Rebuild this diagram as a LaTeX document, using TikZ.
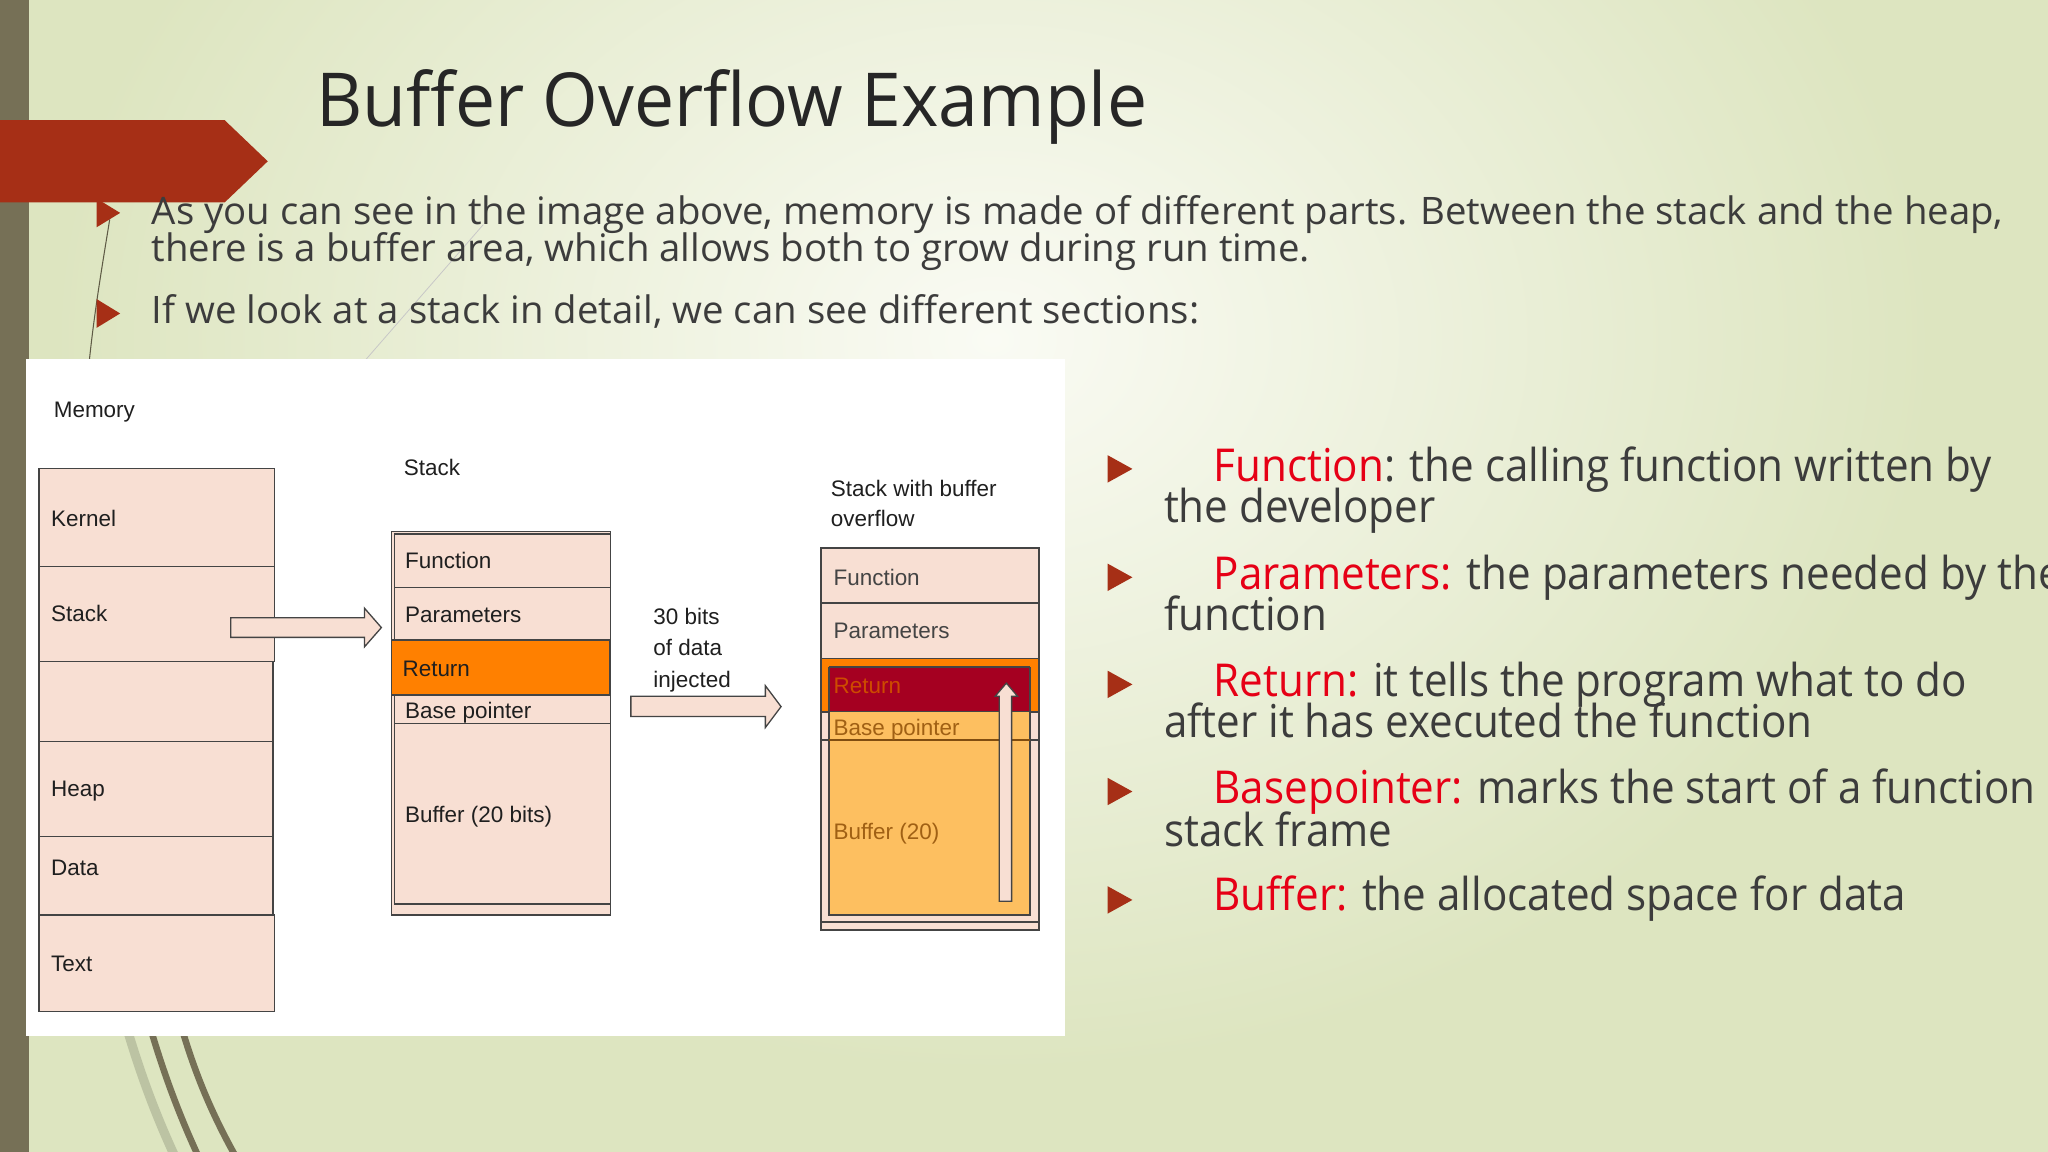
\documentclass[tikz,border=0pt]{standalone}
\usepackage{fontspec}
\setmainfont{Liberation Sans}
\newfontfamily\titlefont[FakeStretch=0.96]{Open Sans}
\newfontfamily\bodyfont[FakeStretch=1.013]{Open Sans}
\newfontfamily\sidefont[FakeStretch=0.93]{Open Sans}
\newfontfamily\arialfont{Liberation Sans}
\definecolor{bg}{RGB}{221,229,192}
\definecolor{bgglow}{RGB}{250,251,244}
\definecolor{olive}{RGB}{118,112,86}
\definecolor{banner}{RGB}{166,47,22}
\definecolor{titlegray}{RGB}{38,38,38}
\definecolor{bodygray}{RGB}{60,60,60}
\definecolor{termred}{RGB}{230,0,22}
\definecolor{pinkfill}{RGB}{248,223,211}
\definecolor{edge}{RGB}{68,68,68}
\definecolor{orangefill}{RGB}{255,128,0}
\definecolor{darkred}{RGB}{165,0,33}
\definecolor{lightorange}{RGB}{253,191,96}
\definecolor{dimtext}{RGB}{160,96,20}
\definecolor{rettext}{RGB}{205,75,0}
\begin{document}
\begin{tikzpicture}[x=1pt,y=-1pt,
  box/.style={draw=edge, line width=1.1pt, fill=pinkfill},
  lbl/.style={font=\arialfont\fontsize{17.2}{20.5}\selectfont, text=black!88, inner sep=0pt, anchor=base west},
  titletext/.style={font=\titlefont\fontsize{57}{64}\selectfont, text=titlegray, inner sep=0pt, anchor=base west},
  bodytext/.style={font=\bodyfont\fontsize{29}{29}\selectfont, text=bodygray, inner sep=0pt, anchor=base west},
  sidetext/.style={font=\sidefont\fontsize{34.7}{33}\selectfont, text=bodygray, inner sep=0pt, anchor=base west},
  bullet/.style={fill=banner, draw=none},
  hollowarrow/.style={draw=edge, line width=1pt, fill=pinkfill}
]
\useasboundingbox (0,0) rectangle (1568,882);
\clip (0,0) rectangle (1568,882);
% background
\fill[bg] (0,0) rectangle (1568,882);
\shade[inner color=bgglow, outer color=bg] (760,260) ellipse [x radius=720, y radius=560];
% left bar
\fill[olive] (0,0) rectangle (22,882);
% decorative lines
\draw[olive!80!black, line width=0.8pt] (84,168) .. controls (78,205) and (72,240) .. (68,280);
\draw[black!22, line width=0.6pt] (370,172) -- (276,280);
\draw[black!15!bg, line width=7pt] (98,790) .. controls (110,830) and (122,860) .. (136,890);
\draw[olive, line width=5pt] (116,790) .. controls (128,830) and (140,860) .. (154,890);
\draw[olive, line width=5pt] (140,790) .. controls (152,830) and (166,860) .. (183,890);
% banner
\fill[banner] (0,92) -- (172,92) -- (205,123.5) -- (172,155) -- (0,155) -- cycle;
% title
\node[titletext] (title) at (242,97) {Buffer Overflow Example};
% top bullets
\fill[bullet] (74,152) -- (92,163) -- (74,174) -- cycle;
\fill[bullet] (74,229) -- (92,240) -- (74,251) -- cycle;
\node[bodytext] (b1a) at (116,172) {As you can see in the image above, memory is made of different parts. Between the stack and the heap,};
\node[bodytext] (b1b) at (116,200.5) {there is a buffer area, which allows both to grow during run time.};
\node[bodytext] (b2) at (116,248) {If we look at a stack in detail, we can see different sections:};
% white panel
\fill[white] (20,275) rectangle (815,793);
% memory column
\node[lbl] (memlbl) at (41,320) {Memory};
\draw[box] (30,358.6) rectangle (210,433.8);
\draw[box] (30,433.8) rectangle (210,506.6);
\draw[box] (30,506.6) rectangle (209,567.8);
\draw[box] (30,567.8) rectangle (209,640.6);
\draw[box] (30,640.6) rectangle (209,700.4);
\draw[box] (30,700.4) rectangle (210,774.5);
\node[lbl] (mk) at (39,403) {Kernel};
\node[lbl] (ms) at (39,476) {Stack};
\node[lbl] (mh) at (39,610) {Heap};
\node[lbl] (md) at (39,670) {Data};
\node[lbl] (mt) at (39,744) {Text};
% arrow memory -> stack
\draw[hollowarrow] (176.7,473) -- (279,473) -- (279,465.6) -- (292,480.5) -- (279,495.3) -- (279,488) -- (176.7,488) -- cycle;
% stack
\node[lbl] (stacklbl) at (309,364) {Stack};
\draw[box] (299.8,407) rectangle (467.6,700.4);
\draw[box] (302.2,409) rectangle (467.6,449.8);
\draw[box] (302.2,449.8) rectangle (467.6,490);
\draw[draw=edge, line width=1.1pt, fill=orangefill] (299.8,490) rectangle (466.6,532);
\draw[box] (302.2,532) rectangle (467.6,554);
\draw[box] (302.2,554) rectangle (467.6,692);
\node[lbl] (sf) at (310,435.5) {Function};
\node[lbl] (sp) at (310,476.5) {Parameters};
\node[lbl] (sr) at (308,518) {Return};
\node[lbl] (sb) at (310,550) {Base pointer};
\node[lbl] (sbuf) at (310,630) {Buffer (20 bits)};
% injected text and arrow
\node[lbl] (inj1) at (500,478) {30 bits};
\node[lbl] (inj2) at (500,502) {of data};
\node[lbl] (inj3) at (500,526) {injected};
\draw[hollowarrow] (483,533) -- (586,533) -- (586,525) -- (598,541) -- (586,557) -- (586,548.5) -- (483,548.5) -- cycle;
% overflow stack
\node[lbl] (ovl1) at (636,380) {Stack with buffer};
\node[lbl] (ovl2) at (636,403) {overflow};
\draw[box] (628.6,419.7) rectangle (795.6,712);
\draw[box] (628.6,419.7) rectangle (795.6,461.6);
\draw[box] (628.6,461.6) rectangle (795.6,504);
\draw[draw=edge, line width=1.1pt, fill=orangefill] (628.6,504) rectangle (795.6,545);
\draw[box] (628.6,545) rectangle (795.6,566.6);
\draw[edge, line width=1.1pt] (628.6,706) -- (795.6,706);
\fill[darkred] (634.7,510.7) rectangle (788.6,545);
\draw[draw=edge, line width=1pt, fill=lightorange] (634.7,545) rectangle (788.6,700.5);
\draw[draw=edge, line width=1pt] (634.7,510.7) -- (634.7,545) (788.6,510.7) -- (788.6,545) (634.7,510.7) -- (788.6,510.7);
\draw[dimtext!80!black, line width=1.1pt] (634.7,566.6) -- (788.6,566.6);
\node[lbl, text=edge] (of) at (638,448) {Function};
\node[lbl, text=edge] (op) at (638,489) {Parameters};
\node[lbl, text=rettext] (orr) at (638,531) {Return};
\node[lbl, text=dimtext] (ob) at (638,563) {Base pointer};
\node[lbl, text=dimtext] (obuf) at (638,643) {Buffer (20)};
\draw[hollowarrow] (765,690) -- (765,533) -- (762,533) -- (770.5,523) -- (779,533) -- (774.5,533) -- (774.5,690) -- cycle;
% right bullets
\foreach \yy in {359,442,524,606,689} { \fill[bullet] (848,\yy-10.5) -- (867,\yy) -- (848,\yy+10.5) -- cycle; }
\node[sidetext] (r1a) at (929,368.5) {\textcolor{termred}{Function}: the calling function written by};
\node[sidetext] (r1b) at (891,400) {the developer};
\node[sidetext] (r2a) at (929,451) {\textcolor{termred}{Parameters:} the parameters needed by the};
\node[sidetext] (r2b) at (891,483) {function};
\node[sidetext] (r3a) at (929,533) {\textcolor{termred}{Return:} it tells the program what to do};
\node[sidetext] (r3b) at (891,565) {after it has executed the function};
\node[sidetext] (r4a) at (929,615) {\textcolor{termred}{Basepointer:} marks the start of a function};
\node[sidetext] (r4b) at (891,648) {stack frame};
\node[sidetext] (r5a) at (929,697) {\textcolor{termred}{Buffer:} the allocated space for data};
\end{tikzpicture}
\end{document}
